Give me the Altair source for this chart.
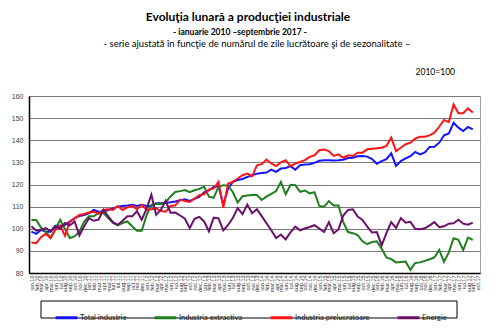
import altair as alt
import pandas as pd

# ---------------- data ----------------
months_ro = ["ian", "feb", "mar", "apr", "mai", "iun", "iul", "aug", "sep", "oct", "noi", "dec"]
years = ["10", "11", "12", "13", "14", "15", "16", "17"]
labels = [f"{m}.{y}" for y in years for m in months_ro][:94]  # ian.10 .. oct.17

series_names = ["Total industrie", "Industria extractiva", "Industria prelucratoare", "Energie"]
series_colors = ["#1414ff", "#1f7f1f", "#ff1414", "#6a106a"]

total = [98.7, 97.7, 99.5, 98.7, 98.7, 101.3, 101.3, 101.7, 103.2, 104.7, 105.8, 106.2,
         107.0, 108.5, 107.7, 107.7, 108.5, 109.2, 110.0, 110.3, 110.5, 110.8, 110.3, 110.8,
         110.3, 110.3, 111.5, 111.5, 111.8, 112.0, 112.3, 112.9, 113.3, 112.6, 113.5, 114.4,
         116.5, 117.4, 118.9, 119.2, 110.8, 118.2, 121.2, 122.0, 122.5, 123.4, 124.2, 124.9,
         125.2, 125.4, 126.7, 125.7, 127.2, 127.5, 128.3, 126.7, 128.7, 129.0, 129.2, 129.8,
         130.7, 131.0, 131.0, 130.9, 131.0, 131.2, 132.0, 132.1, 132.8, 132.9, 132.6, 131.5,
         129.4, 130.6, 131.5, 134.1, 128.4, 130.6, 131.8, 132.8, 134.7, 133.6, 134.5, 137.0,
         137.1, 138.9, 142.2, 143.1, 147.9, 145.7, 144.2, 146.0, 144.9]

extractiva = [104.0, 104.0, 100.5, 98.7, 96.0, 99.9, 104.0, 99.9, 95.8, 96.5, 98.7, 103.3,
              105.6, 105.6, 107.1, 107.1, 104.8, 102.6, 101.5, 102.6, 103.3, 101.1, 99.1, 99.1,
              106.0, 110.8, 111.3, 111.1, 112.0, 114.6, 116.6, 117.0, 117.5, 116.5, 117.4, 118.0,
              119.0, 114.5, 114.0, 119.0, 119.7, 119.5, 116.5, 111.8, 114.7, 115.0, 115.2, 115.2,
              113.0, 114.5, 115.8, 117.0, 121.2, 115.6, 119.9, 119.7, 116.7, 117.3, 116.0, 116.5,
              110.3, 110.0, 112.5, 110.5, 110.5, 103.0, 98.5, 98.0, 97.1, 94.3, 93.0, 94.0,
              94.3, 91.0, 87.0, 86.3, 84.8, 85.0, 85.2, 81.4, 84.5, 84.8, 85.5, 86.2,
              87.0, 90.4, 85.0, 89.3, 95.7, 95.0, 90.4, 96.0, 95.0]

prelucratoare = [93.8, 93.5, 96.2, 97.7, 95.7, 99.5, 101.3, 96.8, 103.2, 104.7, 106.2, 106.7,
                 107.3, 107.7, 106.7, 108.5, 108.8, 108.5, 110.3, 108.5, 109.7, 110.3, 108.8, 110.8,
                 108.5, 108.8, 109.2, 108.0, 107.7, 110.3, 110.6, 113.2, 112.5, 112.1, 113.6, 115.2,
                 115.6, 117.7, 118.2, 121.2, 109.6, 120.4, 121.2, 122.7, 124.2, 124.9, 123.7, 128.7,
                 129.2, 131.3, 129.5, 128.3, 130.0, 131.0, 128.3, 129.5, 130.2, 131.0, 132.5, 133.2,
                 135.5, 135.8, 135.1, 132.9, 133.6, 132.1, 133.2, 132.9, 134.4, 134.4, 135.9, 136.2,
                 136.4, 136.6, 137.4, 141.2, 135.1, 136.6, 138.2, 138.9, 140.7, 141.6, 141.6, 142.2,
                 143.4, 146.1, 149.2, 148.2, 156.2, 152.2, 152.2, 154.4, 152.5]

energie = [101.1, 99.1, 99.6, 100.3, 98.8, 101.1, 100.0, 102.6, 101.5, 103.3, 97.0, 101.1,
           104.8, 103.6, 104.1, 108.6, 105.6, 103.0, 101.8, 103.6, 105.6, 105.6, 107.9, 104.1,
           109.0, 115.4, 106.3, 108.6, 112.7, 107.2, 107.3, 106.0, 104.5, 100.3, 104.5, 105.4,
           103.3, 98.8, 105.0, 104.7, 99.3, 101.7, 105.0, 109.3, 106.6, 110.9, 107.0, 108.8,
           105.7, 102.5, 99.3, 95.8, 97.4, 95.2, 98.4, 101.0, 99.3, 100.1, 100.8, 101.6,
           100.1, 98.5, 103.0, 98.0, 99.7, 106.0, 108.5, 108.8, 105.5, 104.0, 101.0, 98.3,
           98.5, 92.5, 98.0, 103.0, 100.4, 104.8, 102.7, 103.1, 100.0, 99.8, 100.2, 101.5,
           103.0, 100.7, 101.1, 102.3, 102.5, 104.1, 102.3, 101.8, 102.8]

y_ticks = [80, 90, 100, 110, 120, 130, 140, 150, 160]

title_text = "Evoluţia lunară a producţiei industriale"
subtitle1 = "-  ianuarie 2010 –septembrie 2017 -"
subtitle2 = "- serie ajustată în funcţie de numărul de zile lucrătoare şi de sezonalitate –"
base_text = "2010=100"

# ---------------- table ----------------
rows = []
for name, vals in zip(series_names, [total, extractiva, prelucratoare, energie]):
    for i, v in enumerate(vals):
        rows.append({"luna": labels[i], "valoare": v, "serie": name, "ord": i})
df = pd.DataFrame(rows)

FONT = "Lato"
AXFONT = "Liberation Sans"

lines = alt.Chart(df).mark_line(strokeWidth=2).encode(
    x=alt.X("luna:O", sort=labels,
            scale=alt.Scale(domain=labels, type="point", padding=0.5),
            axis=alt.Axis(title=None, labelAngle=-90, labelFontSize=5.5, labelFont=AXFONT,
                          labelColor="#333333", labelOverlap=False, ticks=False,
                          labelPadding=2, domainColor="black", domainWidth=1.5, grid=False)),
    y=alt.Y("valoare:Q", scale=alt.Scale(domain=[80, 160], nice=False, zero=False),
            axis=alt.Axis(title=None, values=y_ticks, labelFontSize=7, labelFont=AXFONT,
                          labelColor="#404040", ticks=False, labelPadding=6,
                          domainColor="black", domainWidth=1.5,
                          grid=True, gridColor="#7a7a7a", gridWidth=1)),
    color=alt.Color("serie:N", sort=series_names,
                    scale=alt.Scale(domain=series_names, range=series_colors),
                    legend=alt.Legend(orient="none", legendX=25, legendY=209,
                                      direction="horizontal", title=None,
                                      symbolType="stroke", symbolSize=480,
                                      symbolStrokeWidth=3, labelFont=FONT,
                                      labelFontSize=7.5, labelColor="#222222",
                                      columnPadding=21, labelOffset=1, padding=0)),
    order=alt.Order("ord:Q"),
)

one = alt.Data(values=[{}])

legend_box = alt.Chart(one).mark_rect(fill=None, stroke="black", strokeWidth=1).encode(
    x=alt.value(12), x2=alt.value(428), y=alt.value(205), y2=alt.value(222))

t1 = alt.Chart(one).mark_text(text=title_text, font=FONT, fontSize=12, fontWeight="bold",
                              align="center", baseline="middle", color="black").encode(
    x=alt.value(219), y=alt.value(-79))
t2 = alt.Chart(one).mark_text(text=subtitle1, font=FONT, fontSize=8.5, fontWeight="bold",
                              align="center", baseline="middle", color="black").encode(
    x=alt.value(211), y=alt.value(-64))
t3 = alt.Chart(one).mark_text(text=subtitle2, font=FONT, fontSize=9.5,
                              align="center", baseline="middle", color="black").encode(
    x=alt.value(228), y=alt.value(-52))
t4 = alt.Chart(one).mark_text(text=base_text, font=FONT, fontSize=8.5,
                              align="right", baseline="middle", color="black").encode(
    x=alt.value(426), y=alt.value(-24))

chart = alt.layer(lines, legend_box, t1, t2, t3, t4).properties(
    width=451, height=177,
    autosize=alt.AutoSizeParams(type="none"),
    padding={"left": 29, "top": 96, "right": 20, "bottom": 60},
    background="white",
).configure_view(stroke="#a0a0a0", strokeWidth=1)

chart.save("out.html", embed_options={"renderer": "svg", "actions": False})
